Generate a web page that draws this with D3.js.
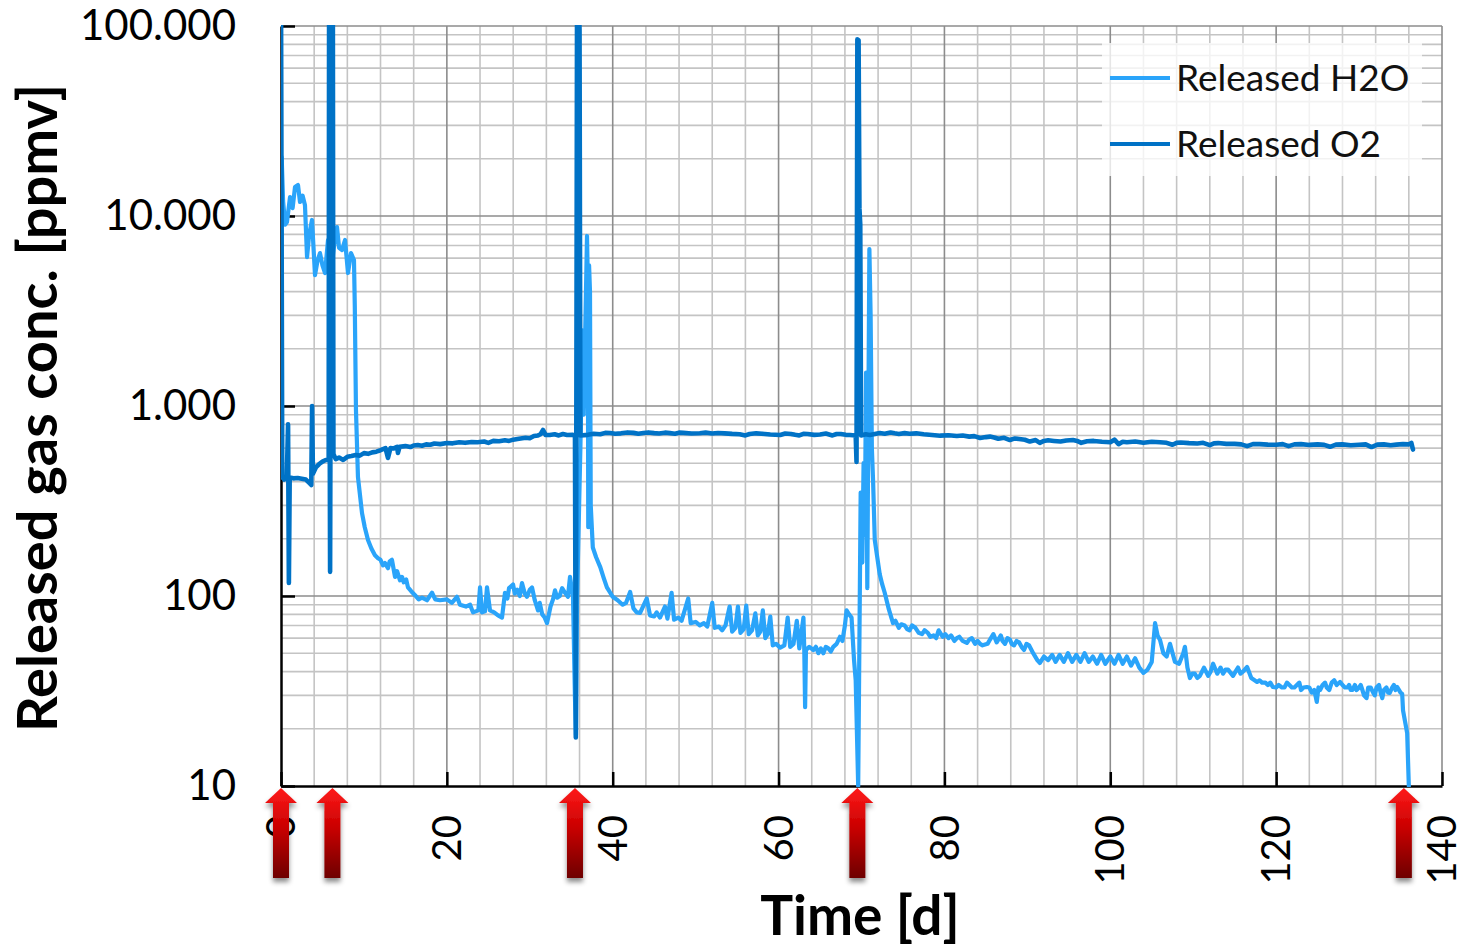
<!DOCTYPE html>
<html>
<head>
<meta charset="utf-8">
<script src="https://cdn.jsdelivr.net/npm/d3@7/dist/d3.min.js"></script>
<style>
  html, body { margin: 0; padding: 0; background: #fff; }
  svg { display: block; }
  text { font-family: Lato, "Open Sans", sans-serif; }
</style>
</head>
<body>
<svg id="chart" width="1462" height="949"></svg>
<script>
// Released H2O concentration [ppmv] over time [d]
const h2oSeries = [
  [0, 420], [0.08, 20400], [0.25, 12000], [0.5, 9000], [0.72, 9300], [1.09, 12590], [1.4, 11000],
  [1.69, 14200], [2.05, 14550], [2.29, 11850], [2.6, 12800], [2.89, 11430], [3.14, 6080], [3.4, 8000],
  [3.74, 9530], [4.1, 4890], [4.4, 5800], [4.7, 6380], [5.0, 5500], [5.31, 5010], [5.67, 7475],
  [5.9, 5200], [6.15, 5655], [6.4, 7000], [6.75, 8750], [7.0, 6800], [7.36, 6620], [7.72, 7475],
  [8.08, 5010], [8.44, 6380], [8.8, 5865], [8.9, 3318], [9.04, 953], [9.28, 423], [9.77, 273],
  [10.1, 230], [10.49, 197], [10.9, 178], [11.33, 164], [11.7, 158], [12.0, 155], [12.3, 145],
  [12.54, 149], [12.9, 140], [13.1, 152], [13.38, 155], [13.75, 126], [14.0, 135], [14.35, 121],
  [14.6, 126], [14.8, 118], [15.1, 122], [15.31, 111], [15.7, 106], [16.16, 101], [16.6, 96],
  [17.0, 98], [17.6, 95], [18.21, 104], [18.6, 96], [19.17, 95], [20.0, 96], [20.6, 92],
  [21.22, 99], [21.58, 90], [22.3, 88], [22.8, 90], [23.15, 82], [23.8, 84], [24.0, 111],
  [24.24, 82], [24.6, 83], [24.84, 111], [25.2, 84], [25.7, 82], [26.17, 79], [26.65, 77],
  [27.01, 104], [27.3, 97], [27.5, 110], [27.98, 115], [28.2, 103], [28.5, 108], [28.8, 100],
  [29.06, 117], [29.4, 103], [29.66, 99], [30.0, 108], [30.27, 111], [30.6, 95], [30.99, 84],
  [31.2, 92], [31.5, 80], [31.8, 77], [32.08, 72], [32.5, 88], [32.8, 96], [33.04, 107],
  [33.3, 98], [33.6, 100], [33.9, 110], [34.25, 104], [34.6, 99], [34.85, 126], [35.21, 99],
  [35.45, 29], [35.57, 18.5], [35.7, 95], [36.1, 600], [36.35, 2500], [36.5, 900], [36.9, 7850],
  [37.0, 4500], [37.05, 230], [37.15, 5500], [37.26, 4000], [37.35, 300], [37.6, 180], [38.0, 160],
  [38.5, 142], [38.9, 125], [39.3, 111], [39.7, 104], [40.0, 99], [40.6, 95], [41.2, 90],
  [41.6, 92], [42.1, 105], [42.5, 86], [42.9, 82], [43.3, 81.5], [44.1, 97], [44.5, 79],
  [45.0, 78], [45.3, 82], [45.7, 77], [46.3, 88], [46.6, 76], [47.1, 104], [47.4, 75],
  [47.9, 77], [48.3, 74], [49.1, 97], [49.4, 72], [50.0, 73], [50.5, 70], [51.0, 72], [51.4, 69],
  [52.0, 92], [52.3, 68], [52.8, 69], [53.2, 66], [53.6, 70], [54.1, 88], [54.4, 65], [54.8, 68],
  [55.1, 88], [55.4, 64], [55.8, 67], [56.1, 89], [56.4, 63], [56.8, 66], [57.2, 81], [57.5, 62],
  [57.8, 65], [58.1, 84], [58.4, 60], [58.7, 63], [59.0, 78], [59.3, 55], [59.7, 56], [60.2, 53.5],
  [60.7, 55], [61.1, 77], [61.4, 54], [61.8, 56], [62.2, 74], [62.5, 53], [63.0, 77], [63.1, 52],
  [63.2, 26], [63.3, 52], [63.7, 54], [64.2, 52], [64.5, 54], [64.8, 50], [65.1, 53], [65.4, 50],
  [65.7, 54], [66.0, 53], [66.3, 51], [66.6, 54], [67.0, 56], [67.4, 61], [67.7, 58], [68.0, 70],
  [68.2, 84], [68.5, 80], [68.8, 77], [69.1, 46], [69.3, 36], [69.6, 10], [69.9, 350], [70.1, 150],
  [70.25, 500], [70.4, 210], [70.55, 1500], [70.7, 110], [70.95, 6700], [71.1, 3000], [71.25, 600],
  [71.4, 400], [71.6, 197], [71.9, 160], [72.2, 130], [72.5, 115], [72.8, 104], [73.3, 85],
  [73.8, 72], [74.1, 74], [74.5, 68], [74.8, 71], [75.2, 70], [75.5, 67], [75.8, 66], [76.1, 70],
  [76.5, 68], [76.9, 64], [77.3, 63], [77.6, 66], [78.0, 64], [78.3, 61], [78.7, 62], [79.0, 60],
  [79.3, 66], [79.8, 61], [80.1, 63], [80.5, 60], [80.8, 62], [81.2, 58], [81.5, 60], [81.8, 61],
  [82.2, 58], [82.7, 56.6], [83.0, 59], [83.3, 60], [83.7, 56], [84.0, 58], [84.3, 56], [84.6, 55],
  [85.2, 56], [85.5, 59], [85.9, 63], [86.3, 57], [86.8, 62], [87.0, 58], [87.3, 56], [87.6, 60],
  [87.9, 59], [88.1, 56], [88.4, 55], [88.7, 58], [89.0, 57], [89.3, 54], [89.6, 52], [89.9, 56],
  [90.2, 55], [90.7, 50], [91.2, 46], [91.5, 44.4], [92.0, 48], [92.5, 46], [93.0, 49], [93.4, 45],
  [93.9, 49], [94.4, 45], [94.9, 50], [95.4, 45], [95.9, 49], [96.4, 45], [96.9, 50], [97.4, 45],
  [97.9, 48], [98.4, 44], [98.9, 49], [99.4, 44], [100.0, 48], [100.5, 44], [101.0, 49],
  [101.5, 44], [102.0, 48], [102.5, 43], [103.0, 47], [103.5, 42], [104.0, 39.4], [104.5, 41],
  [105.0, 45], [105.4, 72], [105.7, 62], [106.0, 58.7], [106.4, 50], [106.8, 48], [107.2, 56],
  [107.8, 45], [108.3, 44], [108.8, 50], [109.0, 54], [109.3, 42], [109.6, 37], [109.9, 39],
  [110.2, 39], [110.5, 37], [110.8, 38], [111.3, 42], [111.8, 38], [112.1, 40], [112.4, 44],
  [112.9, 39], [113.3, 42], [113.6, 39], [113.9, 41], [114.2, 41], [114.8, 38], [115.1, 40],
  [115.4, 42], [115.7, 39], [116.0, 40], [116.5, 42.3], [117.0, 37], [117.4, 36], [117.7, 35.3],
  [118.0, 36], [118.3, 35], [118.7, 35], [119.0, 34], [119.3, 35], [119.6, 33.2], [120.0, 33],
  [120.3, 34], [120.7, 33], [121.0, 33], [121.3, 35], [121.6, 34], [121.9, 33], [122.2, 33],
  [122.5, 34], [122.8, 35], [123.0, 32], [123.3, 33], [123.7, 33.2], [124.0, 33], [124.3, 31],
  [124.6, 32], [124.9, 27.7], [125.1, 33], [125.3, 32], [125.6, 34], [125.9, 35], [126.1, 33],
  [126.4, 32], [126.7, 35], [127.0, 36], [127.3, 34], [127.7, 35.3], [128.0, 34], [128.3, 33],
  [128.6, 33], [128.8, 34], [129.0, 32], [129.2, 32], [129.5, 34], [129.7, 32], [130.0, 33],
  [130.2, 34], [130.4, 32], [130.6, 30], [130.9, 29], [131.1, 33], [131.4, 33], [131.7, 31],
  [131.9, 30], [132.1, 33], [132.4, 34], [132.6, 31], [132.8, 29], [133.0, 32], [133.3, 33],
  [133.5, 31], [133.7, 30.9], [134.0, 33], [134.2, 34], [134.4, 32], [134.6, 33.2], [135.0, 31],
  [135.2, 30.5], [135.3, 25], [135.8, 19], [136.0, 10]
];

// Released O2 concentration [ppmv] over time [d]
const o2Series = [
  [0, 150000], [0.15, 430], [0.4, 410], [0.7, 420], [0.85, 800], [0.95, 117], [1.05, 420],
  [1.5, 416], [2.0, 418], [2.5, 414], [3.0, 410], [3.5, 390], [3.65, 384], [3.75, 1000], [3.85, 440],
  [4.2, 475], [4.6, 495], [5.0, 510], [5.4, 520], [5.75, 520], [5.8, 150000], [5.85, 2150],
  [5.92, 134], [6.0, 3000], [6.1, 150000], [6.25, 150000], [6.32, 560], [6.6, 525], [7.0, 535],
  [7.5, 520], [8.0, 540], [8.5, 545], [9.0, 552], [9.5, 548], [10.0, 565], [10.5, 560],
  [11.0, 570], [11.5, 575], [12.0, 585], [12.6, 600], [12.9, 533], [13.2, 600], [13.6, 598],
  [14.0, 610], [14.1, 566], [14.3, 610], [15.0, 615], [15.6, 608], [16.0, 620], [16.5, 623],
  [17.0, 618], [17.5, 628], [18.0, 625], [18.5, 635], [19.2, 630], [20.0, 639], [20.7, 636],
  [21.5, 645], [22.2, 640], [23.0, 647], [23.7, 645], [24.5, 650], [25.0, 640], [25.6, 655],
  [26.3, 652], [27.0, 660], [27.5, 655], [28.0, 665], [28.7, 672], [29.5, 680], [30.0, 677],
  [30.5, 695], [31.0, 700], [31.3, 710], [31.6, 748], [31.9, 705], [32.4, 704], [33.0, 710],
  [33.5, 700], [34.0, 712], [34.5, 704], [35.2, 705], [35.45, 690], [35.55, 18], [35.7, 150000],
  [35.9, 150000], [36.0, 95000], [36.1, 700], [37.0, 705], [37.7, 715], [38.5, 710], [39.1, 722],
  [39.7, 721], [40.3, 715], [41.0, 718], [41.8, 726], [42.5, 722], [43.1, 714], [43.7, 721],
  [44.3, 726], [45.0, 720], [45.6, 716], [46.3, 724], [46.9, 720], [47.5, 715], [48.0, 724],
  [48.5, 722], [49.5, 716], [50.5, 719], [51.2, 724], [52.0, 716], [52.7, 721], [53.5, 718],
  [54.4, 713], [55.3, 710], [56.0, 700], [56.5, 712], [57.3, 718], [58.0, 715], [59.0, 708],
  [60.2, 704], [60.8, 716], [61.5, 712], [62.0, 705], [62.5, 700], [63.0, 714], [63.5, 712],
  [64.3, 705], [65.0, 708], [65.7, 716], [66.5, 700], [67.0, 712], [67.5, 712], [68.1, 705],
  [68.6, 704], [69.3, 700], [69.4, 507], [69.5, 85000], [69.65, 84000], [69.75, 11000],
  [69.85, 9000], [69.95, 700], [70.5, 710], [71.0, 704], [71.6, 712], [72.2, 721], [72.8, 715],
  [73.5, 725], [74.0, 718], [74.5, 712], [75.2, 720], [75.8, 714], [76.6, 718], [77.5, 710],
  [78.5, 704], [79.5, 698], [80.5, 702], [81.5, 695], [82.2, 699], [83.0, 690], [83.6, 694],
  [84.3, 679], [85.0, 686], [85.5, 690], [86.0, 683], [86.5, 672], [87.2, 680], [87.9, 662],
  [88.5, 675], [89.0, 670], [89.7, 664], [90.3, 650], [91.0, 662], [91.5, 640], [92.0, 655],
  [92.5, 660], [93.2, 655], [94.0, 650], [94.7, 658], [95.5, 662], [96.0, 655], [96.5, 640],
  [97.2, 652], [98.0, 655], [99.0, 648], [100.0, 645], [100.5, 665], [101.0, 630], [101.5, 648],
  [102.0, 645], [103.0, 650], [104.0, 640], [105.0, 648], [106.0, 645], [106.8, 640], [107.5, 625],
  [108.0, 640], [108.5, 643], [109.5, 638], [110.5, 635], [111.2, 640], [112.0, 622], [112.5, 636],
  [113.0, 638], [114.0, 632], [115.0, 632], [115.8, 628], [116.5, 615], [117.2, 630], [118.0, 630],
  [119.0, 626], [120.0, 625], [120.8, 630], [121.5, 615], [122.2, 628], [123.0, 630], [124.0, 624],
  [125.0, 628], [125.8, 624], [126.5, 610], [127.2, 626], [128.0, 628], [129.0, 622], [130.0, 625],
  [130.8, 628], [131.5, 608], [132.2, 626], [133.0, 628], [133.8, 622], [134.5, 626], [135.3, 630],
  [136.0, 628], [136.3, 640], [136.5, 590]
];

// Days at which the marker arrows are placed
const markerDays = [0, 6.2, 35.45, 69.5, 135.4];

// Axis ticks and labels
const xTicks = [0, 20, 40, 60, 80, 100, 120, 140];
const yTicks = [10, 100, 1000, 10000, 100000];
const yTickLabels = ["10", "100", "1.000", "10.000", "100.000"];

const seriesNames = ["Released H2O", "Released O2"];
const seriesColors = ["#2AA4FA", "#0072C6"];

const svg = d3.select("#chart");
const plotL = 281, plotR = 1442, plotT = 26, plotB = 786;

const x = d3.scaleLinear().domain([0, 140]).range([plotL, plotR]);
const y = d3.scaleLog().domain([10, 100000]).range([plotB, plotT]);

const defs = svg.append("defs");
defs.append("clipPath").attr("id", "plotClip")
  .append("rect").attr("x", plotL).attr("y", plotT - 1).attr("width", plotR - plotL).attr("height", plotB - plotT + 2);

const grad = defs.append("linearGradient").attr("id", "arrowGrad")
  .attr("x1", 0).attr("y1", 0).attr("x2", 0).attr("y2", 1);
grad.append("stop").attr("offset", "0%").attr("stop-color", "#FF1A1A");
grad.append("stop").attr("offset", "45%").attr("stop-color", "#C80000");
grad.append("stop").attr("offset", "100%").attr("stop-color", "#6E0000");

const shadow = defs.append("filter").attr("id", "arrowShadow")
  .attr("x", "-50%").attr("y", "-20%").attr("width", "200%").attr("height", "150%");
shadow.append("feDropShadow").attr("dx", 0).attr("dy", 4).attr("stdDeviation", 2.5)
  .attr("flood-color", "#000").attr("flood-opacity", 0.45);

// Grid: minor lines first, then major
const grid = svg.append("g");
const minorX = d3.range(0, 141, 4).filter(d => d % 20 !== 0);
grid.selectAll(".mx").data(minorX).join("line")
  .attr("x1", d => x(d)).attr("x2", d => x(d)).attr("y1", plotT).attr("y2", plotB)
  .attr("stroke", "#C4C4C4").attr("stroke-width", 1.6);

const minorY = [];
[10, 100, 1000, 10000].forEach(b => { for (let k = 2; k <= 9; k++) minorY.push(b * k); });
grid.selectAll(".my").data(minorY).join("line")
  .attr("x1", plotL).attr("x2", plotR).attr("y1", d => y(d)).attr("y2", d => y(d))
  .attr("stroke", "#C4C4C4").attr("stroke-width", 1.6);

grid.selectAll(".MX").data(xTicks.filter(d => d > 0)).join("line")
  .attr("x1", d => x(d)).attr("x2", d => x(d)).attr("y1", plotT).attr("y2", plotB)
  .attr("stroke", "#8C8C8C").attr("stroke-width", 1.6);
grid.selectAll(".MY").data(yTicks.filter(d => d > 10)).join("line")
  .attr("x1", plotL).attr("x2", plotR).attr("y1", d => y(d)).attr("y2", d => y(d))
  .attr("stroke", "#8C8C8C").attr("stroke-width", 1.6);

// Axes
const xAxis = svg.append("g").attr("transform", `translate(0,${plotB})`)
  .call(d3.axisBottom(x).tickValues(xTicks).tickSize(-14).tickSizeOuter(0).tickFormat(d3.format("d")));
xAxis.select(".domain").attr("stroke", "#000").attr("stroke-width", 2.5);
xAxis.selectAll(".tick line").attr("stroke", "#000").attr("stroke-width", 2.5);
xAxis.selectAll(".tick text")
  .attr("transform", "rotate(-90)")
  .attr("x", -29).attr("y", 0).attr("dy", "0.34em")
  .attr("text-anchor", "end")
  .attr("fill", "#000")
  .style("font-size", "40px");

const yAxis = svg.append("g").attr("transform", `translate(${plotL},0)`)
  .call(d3.axisLeft(y).tickValues(yTicks).tickSize(-14).tickSizeOuter(0).tickPadding(45)
    .tickFormat((d, i) => yTickLabels[i]));
yAxis.select(".domain").attr("stroke", "#000").attr("stroke-width", 2.5);
yAxis.selectAll(".tick line").attr("stroke", "#000").attr("stroke-width", 2.5);
yAxis.selectAll(".tick text").attr("fill", "#000").style("font-size", "42px");

// Series
const line = d3.line().x(d => x(d[0])).y(d => y(d[1]));
const plot = svg.append("g").attr("clip-path", "url(#plotClip)");
[h2oSeries, o2Series].forEach((s, i) => {
  plot.append("path").datum(s)
    .attr("d", line)
    .attr("fill", "none")
    .attr("stroke", seriesColors[i])
    .attr("stroke-width", i === 0 ? 4.2 : 4.6)
    .attr("stroke-linejoin", "round")
    .attr("stroke-linecap", "round");
});

// Legend
const lg = svg.append("g");
lg.append("rect").attr("x", 1102).attr("y", 43).attr("width", 320).attr("height", 133)
  .attr("fill", "#fff").attr("fill-opacity", 0.78);
seriesNames.forEach((name, i) => {
  const ly = 78 + i * 66;
  lg.append("line").attr("x1", 1110).attr("x2", 1170).attr("y1", ly).attr("y2", ly)
    .attr("stroke", seriesColors[i]).attr("stroke-width", 4);
  lg.append("text").attr("x", 1176).attr("y", ly).attr("dy", "0.36em")
    .style("font-size", "37px").attr("fill", "#111").text(name);
});

// Marker arrows below the time axis
const arrows = svg.append("g").attr("filter", "url(#arrowShadow)");
markerDays.forEach(d => {
  const cx = x(d), tipY = plotB + 2, headY = plotB + 17, baseY = 878, hw = 16, sw = 8;
  const p = d3.path();
  p.moveTo(cx, tipY);
  p.lineTo(cx + hw, headY);
  p.lineTo(cx + sw, headY);
  p.lineTo(cx + sw, baseY);
  p.lineTo(cx - sw, baseY);
  p.lineTo(cx - sw, headY);
  p.lineTo(cx - hw, headY);
  p.closePath();
  arrows.append("path").attr("d", p.toString()).attr("fill", "url(#arrowGrad)");
});

// Axis titles
svg.append("text")
  .attr("transform", `translate(57,${(plotT + plotB) / 2 + 2}) rotate(-90)`)
  .attr("text-anchor", "middle")
  .style("font-size", "56px").style("font-weight", "bold")
  .attr("fill", "#000")
  .text("Released gas conc. [ppmv]");

svg.append("text")
  .attr("x", 860).attr("y", 935)
  .attr("text-anchor", "middle")
  .style("font-size", "55px").style("font-weight", "bold")
  .attr("fill", "#000")
  .text("Time [d]");
</script>
</body>
</html>
